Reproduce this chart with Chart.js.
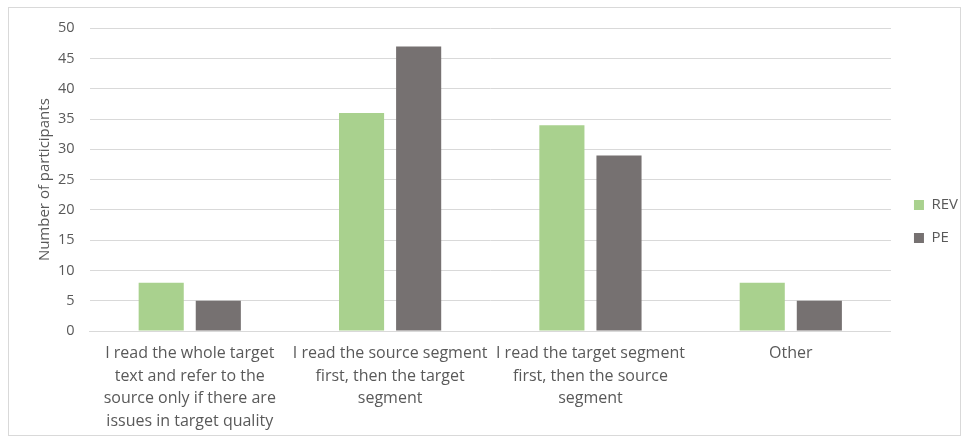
<!DOCTYPE html>
<html>
<head>
<meta charset="utf-8">
<script src="https://cdn.jsdelivr.net/npm/chart.js@4"></script>
<style>
  html, body { margin: 0; padding: 0; background: #fff; }
  #wrap { position: relative; width: 968px; height: 441px; }
  #frame { position: absolute; left: 8px; top: 7px; width: 953px; height: 429px; border: 1px solid #d9d9d9; box-sizing: border-box; }
  #box { position: absolute; left: 0; top: 0; width: 968px; height: 441px; }
</style>
</head>
<body>
<div id="wrap">
  <div id="frame"></div>
  <div id="box"><canvas id="chart"></canvas></div>
</div>
<script>
// categorias (rótulos em várias linhas)
const categorias = [
  ["I read the whole target", "text and refer to the", "source only if there are", "issues in target quality"],
  ["I read the source segment", "first, then the target", "segment"],
  ["I read the target segment", "first, then the source", "segment"],
  ["Other"]
];
const rev = [8, 36, 34, 8];
const pe = [5, 47, 29, 5];
const yTicks = [0, 5, 10, 15, 20, 25, 30, 35, 40, 45, 50];

const cinza = "#595959";
const fonte = "'Open Sans', 'Liberation Sans', sans-serif";

new Chart(document.getElementById("chart"), {
  type: "bar",
  data: {
    labels: categorias,
    datasets: [
      { label: "REV", data: rev, backgroundColor: "#a9d18e", categoryPercentage: 0.57, barPercentage: 0.79 },
      { label: "PE", data: pe, backgroundColor: "#767171", categoryPercentage: 0.57, barPercentage: 0.79 }
    ]
  },
  options: {
    responsive: true,
    maintainAspectRatio: false,
    animation: false,
    layout: { padding: { left: 47, top: 7, right: 0, bottom: 5 } },
    plugins: {
      // título vazio só para reservar espaço acima do gráfico
      title: { display: true, text: " ", fullSize: false, font: { size: 1 }, padding: { top: 20, bottom: 0 } },
      legend: {
        position: "right",
        labels: { boxWidth: 10, boxHeight: 10, color: cinza, font: { family: fonte, size: 15 }, padding: 18 }
      },
      tooltip: { enabled: false }
    },
    scales: {
      x: {
        grid: { display: false },
        border: { color: "#d9d9d9" },
        ticks: { color: cinza, font: { family: fonte, size: 16, lineHeight: 1.42 }, maxRotation: 0, autoSkip: false, padding: 3 }
      },
      y: {
        min: yTicks[0],
        max: yTicks[yTicks.length - 1],
        afterBuildTicks: axis => { axis.ticks = yTicks.map(v => ({ value: v })); },
        grid: { color: "#d9d9d9", drawTicks: false },
        border: { display: false },
        ticks: { color: cinza, font: { family: fonte, size: 14.5 }, padding: 15 },
        title: { display: true, text: "Number of participants", color: cinza, font: { family: fonte, size: 15 }, padding: -11 }
      },
      // eixo vazio à direita, só para afastar o gráfico da legenda
      espaco: {
        position: "right",
        grid: { display: false },
        border: { display: false },
        ticks: { display: false },
        afterFit: axis => { axis.width = 5; }
      }
    }
  }
});
</script>
</body>
</html>
